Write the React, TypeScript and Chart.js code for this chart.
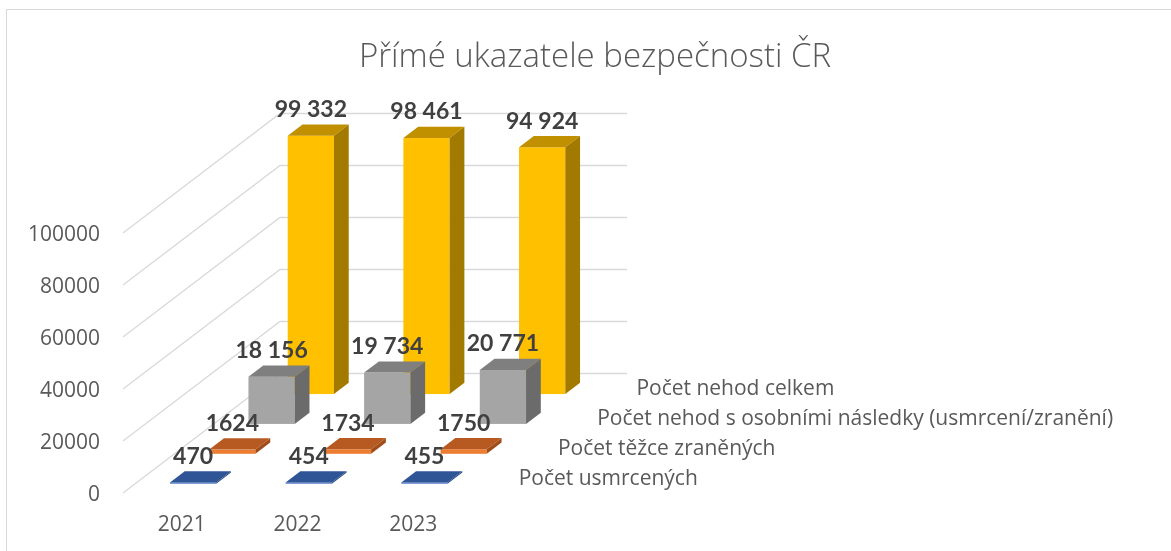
import React, { useEffect, useRef } from "react";
import { Chart, registerables } from "chart.js";

Chart.register(...registerables);

const chartTitle = "Přímé ukazatele bezpečnosti ČR";
const years = ["2021", "2022", "2023"];
const seriesNames = [
  "Počet usmrcených",
  "Počet těžce zraněných",
  "Počet nehod s osobními následky (usmrcení/zranění)",
  "Počet nehod celkem",
];
const usmrceni = [470, 454, 455];
const tezceZraneni = [1624, 1734, 1750];
const nehodySNasledky = [18156, 19734, 20771];
const nehodyCelkem = [99332, 98461, 94924];
const yTicks = [0, 20000, 40000, 60000, 80000, 100000];

const frontColors = ["#4472C4", "#ED7D31", "#A5A5A5", "#FFC000"];
const topColors = ["#2F5597", "#B65A22", "#7F7F7F", "#C09000"];
const sideColors = ["#264A85", "#A04D1A", "#6B6B6B", "#A27A00"];

const LABEL_FONT = "Lato, 'Open Sans', sans-serif";
const AXIS_FONT = "'Open Sans', Lato, sans-serif";

function fmt(v: number): string {
  if (v < 10000) return String(v);
  const s = String(v);
  return s.replace(/\B(?=(\d{3})+(?!\d))/g, " ");
}

const DEPTH_X = 157;
const DEPTH_Y = 119.5;
const BAR_DEPTH = 0.094;

const threeD = {
  id: "threeD",
  afterDraw(chart: any) {
    const ctx: CanvasRenderingContext2D = chart.ctx;
    const xs = chart.scales.x;
    const ys = chart.scales.y;
    const left = xs.left;
    const right = xs.right;
    const y0 = ys.getPixelForValue(0);
    const nRows = chart.data.datasets.length;

    ctx.save();
    // outer border
    ctx.strokeStyle = "#D9D9D9";
    ctx.lineWidth = 1;
    ctx.strokeRect(6.5, 9.5, 1200, 600);

    // title
    ctx.fillStyle = "#595959";
    ctx.font = `300 33px ${AXIS_FONT}`;
    ctx.textAlign = "center";
    ctx.textBaseline = "alphabetic";
    ctx.fillText(chartTitle, 595, 67);

    // gridlines: side wall + back wall
    ctx.strokeStyle = "#D9D9D9";
    ctx.lineWidth = 1.3;
    yTicks.forEach((t) => {
      const y = ys.getPixelForValue(t);
      ctx.beginPath();
      ctx.moveTo(left, y);
      ctx.lineTo(left + DEPTH_X, y - DEPTH_Y);
      ctx.lineTo(right + DEPTH_X, y - DEPTH_Y);
      ctx.stroke();
    });

    // y tick labels
    ctx.fillStyle = "#595959";
    ctx.font = `21px ${AXIS_FONT}`;
    ctx.textAlign = "right";
    yTicks.forEach((t) => {
      const y = ys.getPixelForValue(t);
      ctx.fillText(String(t), 100, y + 7.5);
    });

    // category labels
    ctx.textAlign = "center";
    years.forEach((_, i) => {
      ctx.fillText(years[i], xs.getPixelForValue(i) + 1, y0 + 38);
    });

    // series names along depth axis
    ctx.textAlign = "left";
    for (let r = 0; r < nRows; r++) {
      const t = (r + 0.5) / nRows;
      ctx.fillText(seriesNames[r], right + DEPTH_X * t + 29, y0 - DEPTH_Y * t + 7);
    }

    // bars, back to front
    const ddx = DEPTH_X * BAR_DEPTH;
    const ddy = DEPTH_Y * BAR_DEPTH;
    const labels: { x: number; y: number; text: string }[] = [];
    for (let r = nRows - 1; r >= 0; r--) {
      const meta = chart.getDatasetMeta(r);
      const tf = (r + 0.5) / nRows - BAR_DEPTH / 2;
      const ox = DEPTH_X * tf;
      const oy = -DEPTH_Y * tf;
      meta.data.forEach((el: any, i: number) => {
        const p = el.getProps(["x", "y", "base", "width"], true);
        const x1 = p.x - p.width / 2 + ox;
        const x2 = p.x + p.width / 2 + ox;
        const yt = p.y + oy;
        const yb = p.base + oy;
        // front
        ctx.fillStyle = frontColors[r];
        ctx.fillRect(x1, yt, x2 - x1, yb - yt);
        // top
        ctx.fillStyle = topColors[r];
        ctx.beginPath();
        ctx.moveTo(x1, yt);
        ctx.lineTo(x2, yt);
        ctx.lineTo(x2 + ddx, yt - ddy);
        ctx.lineTo(x1 + ddx, yt - ddy);
        ctx.closePath();
        ctx.fill();
        // side
        ctx.fillStyle = sideColors[r];
        ctx.beginPath();
        ctx.moveTo(x2, yt);
        ctx.lineTo(x2 + ddx, yt - ddy);
        ctx.lineTo(x2 + ddx, yb - ddy);
        ctx.lineTo(x2, yb);
        ctx.closePath();
        ctx.fill();
        const v = chart.data.datasets[r].data[i] as number;
        labels.push({ x: p.x + ox, y: yt - ddy - 7.5, text: fmt(v) });
      });
    }

    // data labels
    ctx.fillStyle = "#404040";
    ctx.font = `bold 23px ${LABEL_FONT}`;
    ctx.textAlign = "center";
    labels.forEach((l) => ctx.fillText(l.text, l.x, l.y));
    ctx.restore();
  },
};

export default function App() {
  const ref = useRef<HTMLCanvasElement>(null);
  useEffect(() => {
    if (!ref.current) return;
    const series = [usmrceni, tezceZraneni, nehodySNasledky, nehodyCelkem];
    const chart = new Chart(ref.current, {
      type: "bar",
      data: {
        labels: years,
        datasets: series.map((d, i) => ({
          label: seriesNames[i],
          data: d,
          backgroundColor: "rgba(0,0,0,0)",
          borderWidth: 0,
          grouped: false,
          categoryPercentage: 1,
          barPercentage: 0.4,
        })) as any,
      },
      options: {
        animation: false,
        responsive: false,
        devicePixelRatio: 1,
        layout: { padding: { left: 123, right: 701, top: 233, bottom: 58 } },
        plugins: { legend: { display: false }, title: { display: false }, tooltip: { enabled: false } },
        scales: {
          x: { display: false, offset: true },
          y: { display: false, min: 0, max: 100000 },
        },
      },
      plugins: [threeD],
    });
    return () => chart.destroy();
  }, []);
  return (
    <div style={{ position: "fixed", left: 0, top: 0, width: 1171, height: 551, background: "#fff" }}>
      <canvas ref={ref} width={1171} height={551} />
    </div>
  );
}
